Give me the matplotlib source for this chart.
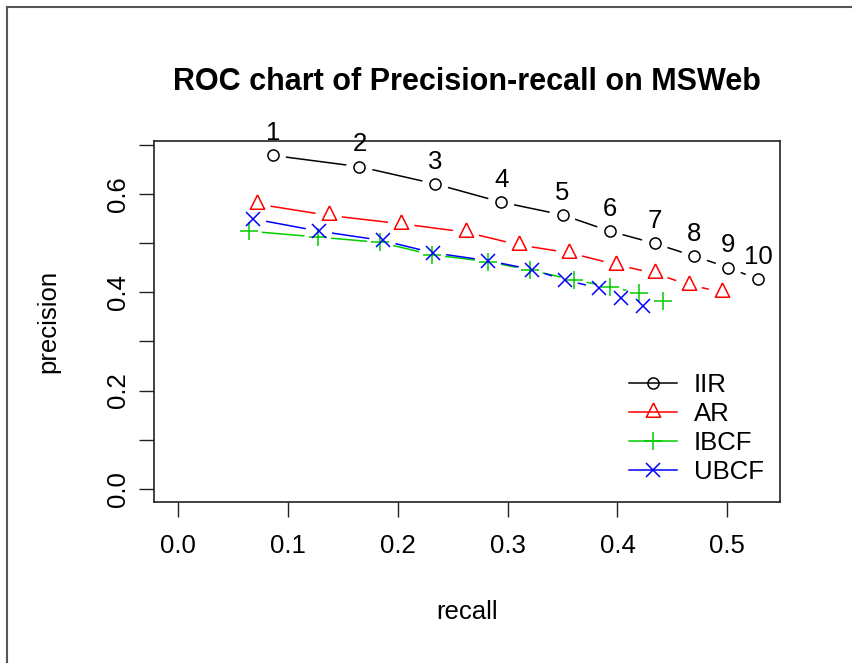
import matplotlib.pyplot as plt
import numpy as np
from matplotlib.lines import Line2D

plt.rcParams['font.family'] = ['Liberation Sans', 'DejaVu Sans']

# values (recall, precision)
iir_recall = [0.086, 0.165, 0.234, 0.294, 0.350, 0.393, 0.434, 0.470, 0.501, 0.528]
iir_prec = [0.678, 0.655, 0.620, 0.583, 0.557, 0.524, 0.499, 0.473, 0.450, 0.426]
ar_recall = [0.072, 0.137, 0.203, 0.262, 0.310, 0.356, 0.399, 0.434, 0.465, 0.495]
ar_prec = [0.579, 0.556, 0.539, 0.522, 0.496, 0.480, 0.456, 0.438, 0.415, 0.400]
ibcf_recall = [0.064, 0.127, 0.184, 0.231, 0.282, 0.320, 0.360, 0.393, 0.420, 0.441]
ibcf_prec = [0.524, 0.512, 0.501, 0.476, 0.462, 0.445, 0.425, 0.411, 0.398, 0.381]
ubcf_recall = [0.068, 0.128, 0.186, 0.232, 0.282, 0.322, 0.352, 0.383, 0.403, 0.423]
ubcf_prec = [0.549, 0.524, 0.505, 0.480, 0.464, 0.446, 0.425, 0.408, 0.388, 0.371]
point_labels = [str(i) for i in range(1, 11)]

# triangle with its centroid on the data point (like R's pch=2)
tri = [(0, 0.667), (-0.5, -0.333), (0.5, -0.333), (0, 0.667)]

series = [
    ('IIR', iir_recall, iir_prec, 'black', 'o', 8),
    ('AR', ar_recall, ar_prec, '#FF0000', tri, 13.7),
    ('IBCF', ibcf_recall, ibcf_prec, '#00CC00', '+', 13),
    ('UBCF', ubcf_recall, ubcf_prec, '#0000FF', 'x', 9.5),
]

FS = 18.5

fig = plt.figure(figsize=(8.53, 6.63), dpi=100)
ax = fig.add_axes([0.1802, 0.2424, 0.7342, 0.5449])
ax.set_xlim(-0.0224, 0.548)
ax.set_ylim(-0.0272, 0.7072)


def gapped_line(ax, x, y, color, gap=14):
    # R type="b": segments stop short of each point
    pts = ax.transData.transform(np.column_stack([x, y]))
    inv = ax.transData.inverted()
    for p0, p1 in zip(pts[:-1], pts[1:]):
        d = p1 - p0
        n = np.hypot(*d)
        if n <= 2 * gap:
            continue
        u = d / n
        a = inv.transform(p0 + u * gap)
        b = inv.transform(p1 - u * gap)
        ax.plot([a[0], b[0]], [a[1], b[1]], color=color, lw=1.1)


for name, x, y, c, m, ms in series:
    gapped_line(ax, x, y, c)
    ax.plot(x, y, linestyle='none', marker=m, ms=ms, mec=c, mfc='none', mew=1.1, color=c)

for lab, x, y in zip(point_labels, iir_recall, iir_prec):
    ax.annotate(lab, (x, y), xytext=(0, 16), textcoords='offset points',
                ha='center', va='center', fontsize=FS)

handles = [Line2D([], [], color=c, marker=m, ms=ms, mfc='none', mew=1.1, lw=1.1)
           for name, x, y, c, m, ms in series]
ax.legend(handles, [s[0] for s in series], frameon=False, fontsize=FS,
          loc='upper left', bbox_to_anchor=(0.738, 0.394),
          handlelength=1.86, handletextpad=0.67, labelspacing=0.2, borderpad=0)

ax.set_xticks([0.0, 0.1, 0.2, 0.3, 0.4, 0.5])
ax.set_yticks([0.0, 0.1, 0.2, 0.3, 0.4, 0.5, 0.6, 0.7])
ax.set_yticklabels(['0.0', '', '0.2', '', '0.4', '', '0.6', ''])
ax.tick_params(length=10.8, width=1.0, labelsize=FS, color='#222222', pad=12)
ax.tick_params(axis='y', labelrotation=90, pad=6)
for t in ax.get_yticklabels():
    t.set_va('center')
for sp in ax.spines.values():
    sp.set_linewidth(1.2)
    sp.set_color('#222222')

ax.set_xlabel('recall', fontsize=FS, va='center')
ax.xaxis.set_label_coords(0.5, -0.3045)
ax.set_ylabel('precision', fontsize=FS, va='center')
ax.yaxis.set_label_coords(-0.168, 0.5)
ax.set_title('ROC chart of Precision-recall on MSWeb', fontsize=22,
             fontweight='bold', y=1.14, va='center')

# screenshot frame on the top and left edges
fig.add_artist(Line2D([7 / 853, 1], [1 - 7 / 663, 1 - 7 / 663], color='#555555', lw=1.5))
fig.add_artist(Line2D([7 / 853, 7 / 853], [0, 1 - 7 / 663], color='#555555', lw=1.5))

fig.savefig('out.png', dpi=100)
